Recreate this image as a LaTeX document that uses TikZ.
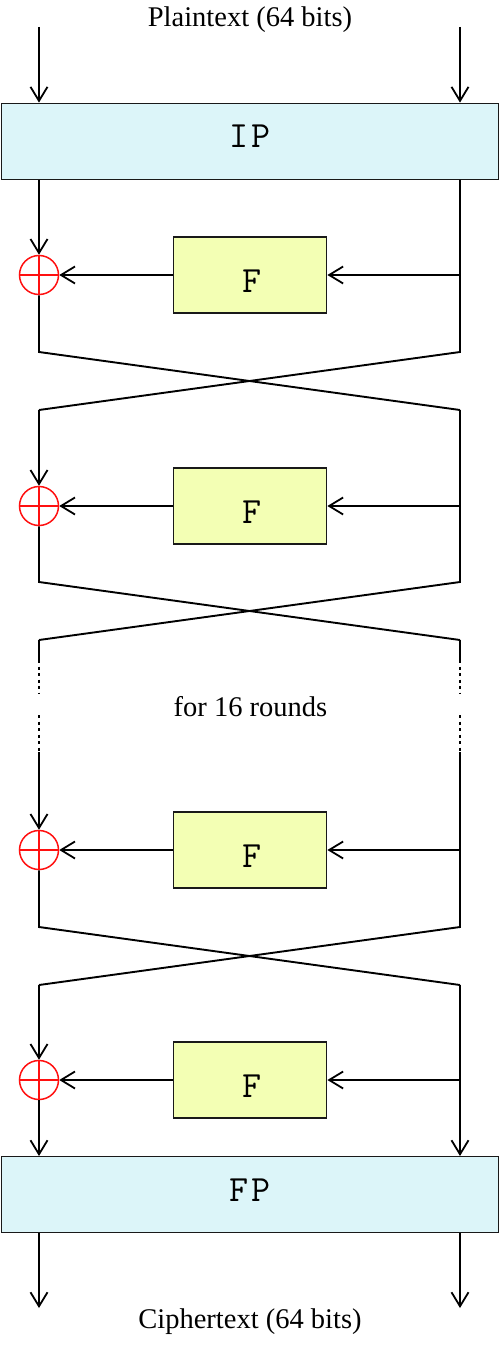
\documentclass[tikz,border=0pt]{standalone}
\usepackage{fontspec}
\setmainfont{Liberation Serif}
\usetikzlibrary{arrows.meta}
\definecolor{permcol}{HTML}{DCF5F9}
\definecolor{fcol}{HTML}{F3FFB4}
\definecolor{xorred}{HTML}{FF1010}
\begin{document}
\begin{tikzpicture}[x=1pt,y=-1pt,
  line width=1.9pt,
  arr/.style={-{Straight Barb[length=14pt,width=17pt,line width=1.8pt]}},
  permbox/.style={draw=black!90, fill=permcol, line width=1.8pt, minimum width=497pt, minimum height=76pt, inner sep=0pt},
  fboxst/.style={draw=black!90, fill=fcol, line width=1.8pt, minimum width=153pt, minimum height=76pt, inner sep=0pt},
  xorc/.style={circle, draw=xorred, line width=1.5pt, minimum size=39pt, inner sep=0pt},
  monotxt/.style={font=\ttfamily\fontsize{37}{37}\selectfont, anchor=base, inner sep=0pt},
  lbl/.style={font=\fontsize{28.5}{28.5}\selectfont, anchor=base, inner sep=0pt},
  dotl/.style={dash pattern=on 3pt off 3.5pt}
]
\useasboundingbox (0,0) rectangle (500,1348);

% texts
\node[lbl] (pt) at (250,27) {Plaintext (64 bits)};
\node[lbl] (ct) at (250,1328) {Ciphertext (64 bits)};
\node[lbl] (fr) at (250.5,716) {for 16 rounds};

% IP / FP
\node[permbox] (ip) at (250,141.5) {};
\node[monotxt] (iptxt) at ([yshift=-6.5pt]ip.center) {I\kern3pt P};
\node[permbox] (fp) at (250,1194.5) {};
\node[monotxt] (fptxt) at ([yshift=-6.5pt]fp.center) {F\kern3pt P};

% coordinates
\coordinate (pL) at (39,27);
\coordinate (pR) at (460,27);
\coordinate (ipL) at (39,180);
\coordinate (ipR) at (460,180);
\coordinate (fpLt) at (39,1156);
\coordinate (fpRt) at (460,1156);
\coordinate (fpLb) at (39,1233);
\coordinate (fpRb) at (460,1233);
\coordinate (oL) at (39,1308);
\coordinate (oR) at (460,1308);

\draw[arr] (pL) -- (pL |- ip.north);
\draw[arr] (pR) -- (pR |- ip.north);
\draw[arr] (fpLb) -- (oL);
\draw[arr] (fpRb) -- (oR);

% rounds
\foreach \i/\y in {1/275,2/506,3/850,4/1080}{
  \node[xorc] (x\i) at (39,\y) {};
  \draw[xorred, line width=1.5pt] (x\i.north) -- (x\i.south) (x\i.west) -- (x\i.east);
  \node[fboxst] (f\i) at (250,\y) {};
  \node[monotxt] (ft\i) at ([xshift=2pt,yshift=-17pt]f\i.center) {F};
  \coordinate (r\i) at (460,\y);
  \draw[arr] (f\i.west) -- (x\i.east);
  \draw[arr] (r\i) -- (f\i.east);
}

% crossings
\foreach \c/\a/\b in {1/352/410,2/582/640,3/927/985}{
  \coordinate (cLt\c) at (39,\a);
  \coordinate (cRt\c) at (460,\a);
  \coordinate (cLb\c) at (39,\b);
  \coordinate (cRb\c) at (460,\b);
}

% round 1
\draw[arr] (ipL) -- (x1.north);
\draw (x1.south) -- (cLt1) -- (cRb1);
\draw (ipR) -- (cRt1) -- (cLb1);
% round 2
\draw[arr] (cLb1) -- (x2.north);
\draw (x2.south) -- (cLt2) -- (cRb2);
\draw (cRb1) -- (cRt2) -- (cLb2);
% gap
\coordinate (gL1) at (39,660);
\coordinate (gL2) at (39,693);
\coordinate (gL3) at (39,715);
\coordinate (gL4) at (39,752);
\coordinate (gR1) at (460,660);
\coordinate (gR2) at (460,693);
\coordinate (gR3) at (460,715);
\coordinate (gR4) at (460,752);
\draw (cLb2) -- (gL1);
\draw (cRb2) -- (gR1);
\draw[dotl] (gL1) -- (gL2);
\draw[dotl] (gL3) -- (gL4);
\draw[dotl] (gR1) -- (gR2);
\draw[dotl] (gR3) -- (gR4);
% round 3
\draw[arr] (gL4) -- (x3.north);
\draw (x3.south) -- (cLt3) -- (cRb3);
\draw (gR4) -- (cRt3) -- (cLb3);
% round 4
\draw[arr] (cLb3) -- (x4.north);
\draw[arr] (x4.south) -- (fpLt);
\draw[arr] (cRb3) -- (fpRt);
\end{tikzpicture}
\end{document}
